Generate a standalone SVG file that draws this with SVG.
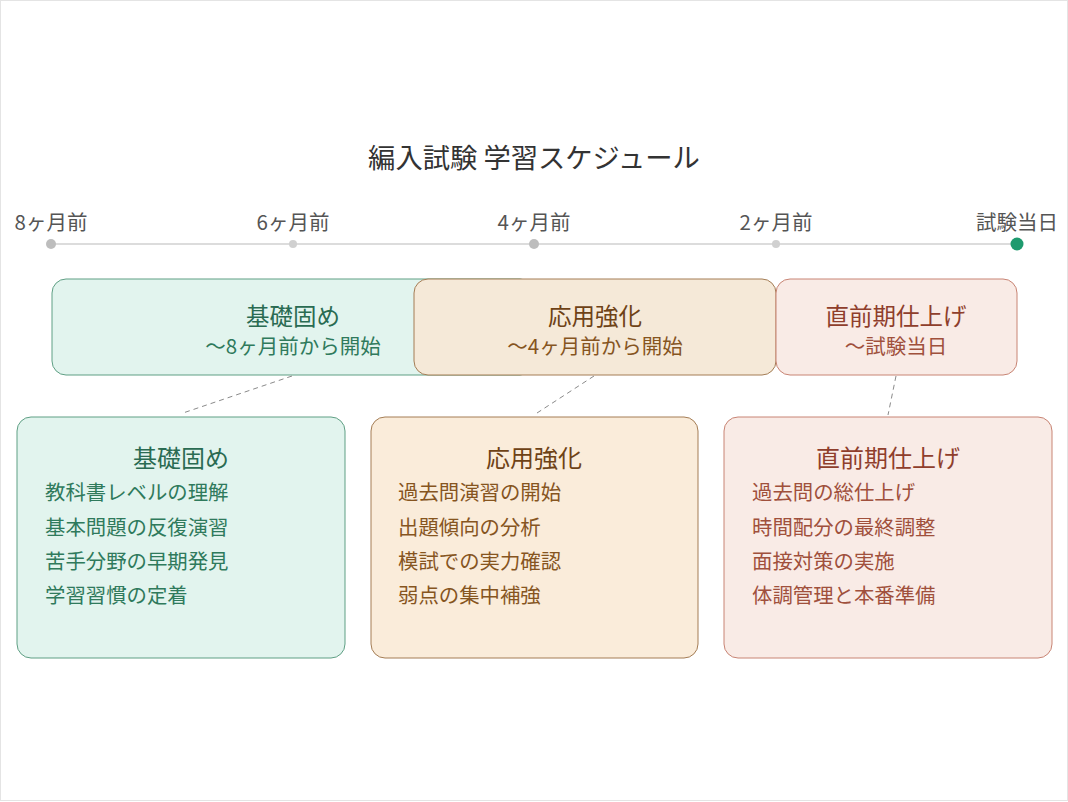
<svg xmlns="http://www.w3.org/2000/svg" width="1068" height="802" viewBox="0 0 1068 802">
<style>
text{font-family:"Noto Sans CJK JP","Noto Sans",sans-serif}
.title{font-size:27.3px;fill:#333;text-anchor:middle}
.tick{font-size:20.5px;fill:#555;text-anchor:middle}
.bt{font-size:23.5px;text-anchor:middle}
.bs{font-size:20.5px;text-anchor:middle}
.dt{font-size:24px;text-anchor:middle}
.it{font-size:20.4px}
.g .t{fill:#2a6b52}.g .s{fill:#2f7a5c}
.o .t{fill:#6e4216}.o .s{fill:#86551f}
.r .t{fill:#8f3e2c}.r .s{fill:#a0503c}
.conn{stroke:#8a8a8a;stroke-width:1;stroke-dasharray:5 4;fill:none}
</style>
<rect x="0.5" y="0.5" width="1067" height="800" fill="#fff" stroke="#e4e4e4"/>
<text class="title" x="534" y="168">編入試験 学習スケジュール</text>
<g id="timeline">
<line x1="51" y1="244" x2="1017" y2="244" stroke="#dcdcdc" stroke-width="2"/>
<circle cx="51" cy="244" r="5" fill="#bdbdbd"/>
<circle cx="293" cy="244" r="4" fill="#d0d0d0"/>
<circle cx="534" cy="244" r="5" fill="#bdbdbd"/>
<circle cx="776" cy="244" r="4" fill="#d0d0d0"/>
<circle cx="1017" cy="244" r="6.5" fill="#1e9a6e"/>
<text class="tick" x="51" y="230">8ヶ月前</text>
<text class="tick" x="293" y="230">6ヶ月前</text>
<text class="tick" x="534" y="230">4ヶ月前</text>
<text class="tick" x="776" y="230">2ヶ月前</text>
<text class="tick" x="1017" y="230">試験当日</text>
</g>
<g id="phase-basic" class="g">
<rect x="52" y="279" width="482" height="96" rx="14" fill="#e2f4ee" stroke="#5f9f84"/>
<text class="bt t" x="293" y="325">基礎固め</text>
<text class="bs s" x="293" y="354">〜8ヶ月前から開始</text>
</g>
<g id="phase-applied" class="o">
<rect x="414" y="279" width="362" height="96" rx="14" fill="#f5e9d8" stroke="#a47d55"/>
<text class="bt t" x="595" y="325">応用強化</text>
<text class="bs s" x="595" y="354">〜4ヶ月前から開始</text>
</g>
<g id="phase-final" class="r">
<rect x="776" y="279" width="241" height="96" rx="14" fill="#f9ebe6" stroke="#c88474"/>
<text class="bt t" x="896" y="325">直前期仕上げ</text>
<text class="bs s" x="896" y="354">〜試験当日</text>
</g>
<g id="connectors">
<line class="conn" x1="292" y1="376" x2="183" y2="413"/>
<line class="conn" x1="594" y1="376" x2="537" y2="413"/>
<line class="conn" x1="896" y1="376" x2="888" y2="415"/>
</g>
<g id="detail-basic" class="g">
<rect x="17" y="417" width="328" height="241" rx="14" fill="#e2f4ee" stroke="#5f9f84"/>
<text class="dt t" x="181" y="467">基礎固め</text>
<text class="it s" x="45" y="500">教科書レベルの理解</text>
<text class="it s" x="45" y="535">基本問題の反復演習</text>
<text class="it s" x="45" y="569">苦手分野の早期発見</text>
<text class="it s" x="45" y="603">学習習慣の定着</text>
</g>
<g id="detail-applied" class="o">
<rect x="371" y="417" width="327" height="241" rx="14" fill="#faecda" stroke="#a47d55"/>
<text class="dt t" x="534" y="467">応用強化</text>
<text class="it s" x="398" y="500">過去問演習の開始</text>
<text class="it s" x="398" y="535">出題傾向の分析</text>
<text class="it s" x="398" y="569">模試での実力確認</text>
<text class="it s" x="398" y="603">弱点の集中補強</text>
</g>
<g id="detail-final" class="r">
<rect x="724" y="417" width="328" height="241" rx="14" fill="#f9ebe6" stroke="#c88474"/>
<text class="dt t" x="888" y="467">直前期仕上げ</text>
<text class="it s" x="752" y="500">過去問の総仕上げ</text>
<text class="it s" x="752" y="535">時間配分の最終調整</text>
<text class="it s" x="752" y="569">面接対策の実施</text>
<text class="it s" x="752" y="603">体調管理と本番準備</text>
</g>
</svg>
